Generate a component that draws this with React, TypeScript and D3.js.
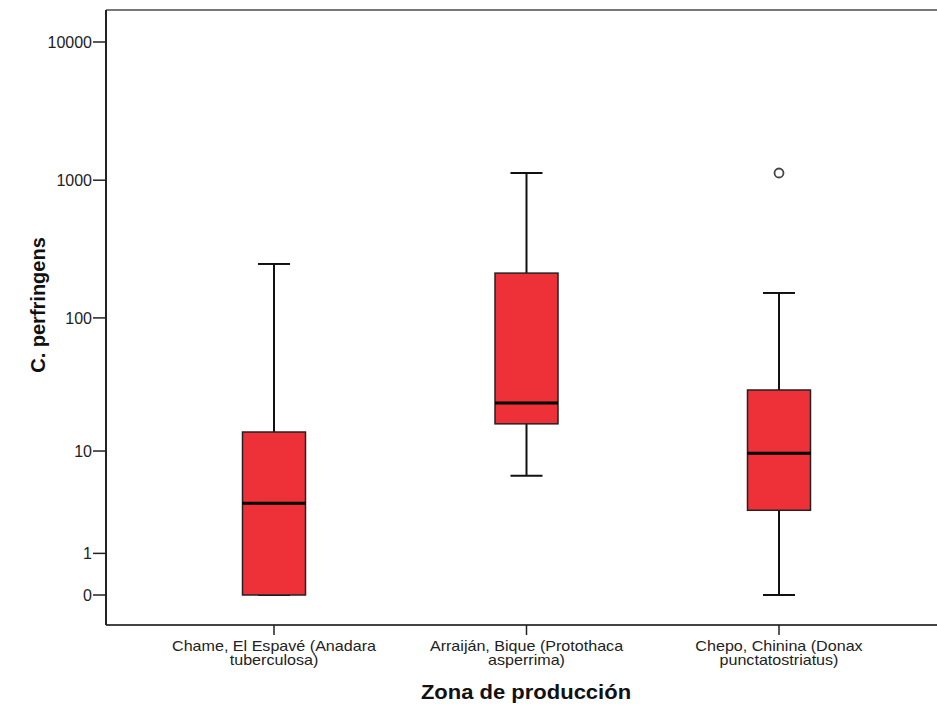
import React from "react";
import * as d3 from "d3";

const categoriesLine1 = ["Chame, El Espavé (Anadara", "Arraiján, Bique (Protothaca", "Chepo, Chinina (Donax"];
const categoriesLine2 = ["tuberculosa)", "asperrima)", "punctatostriatus)"];
const categoryKeys = ["Chame", "Arraijan", "Chepo"];
const whiskerLow = [0, 6.3, 0];
const q1 = [0, 16.3, 3.1];
const median = [3.6, 23.5, 9.6];
const q3 = [14.1, 212, 29.4];
const whiskerHigh = [247, 1127, 152];
const outlierCategory = ["Chepo"];
const outlierValue = [1127];
const yTicks = [0, 1, 10, 100, 1000, 10000];
const yTitle = "C. perfringens";
const xTitle = "Zona de producción";

const W = 937;
const H = 710;
const left = 106;
const top = 10;
const bottom = 625;
const right = 948;

export default function App() {
  const x = d3.scalePoint<string>().domain(categoryKeys).range([274, 779]);
  const y = d3.scaleSymlog().constant(1).domain([0, 10000]).range([595, 42]);
  const boxW = 63;
  const capW = 32;
  const font = "'Liberation Sans', Arial, sans-serif";

  return (
    <svg width={W} height={H} style={{ position: "absolute", left: 0, top: 0, background: "#fff" }} fontFamily={font}>
      <rect x={0} y={0} width={W} height={H} fill="#fff" />
      {/* frame */}
      <line x1={left} x2={right} y1={top} y2={top} stroke="#777" strokeWidth={2} />
      <line x1={left} x2={right} y1={bottom} y2={bottom} stroke="#444" strokeWidth={2} />
      <line x1={left} x2={left} y1={top} y2={bottom} stroke="#222" strokeWidth={2} />

      {/* y ticks */}
      {yTicks.map((t) => (
        <g key={t} transform={`translate(0,${y(t)})`}>
          <line x1={left - 13} x2={left} stroke="#222" strokeWidth={1.5} />
          <text x={left - 14} dy="0.36em" textAnchor="end" fontSize={16} fill="#222">
            {t}
          </text>
        </g>
      ))}

      {/* x ticks and labels */}
      {categoryKeys.map((k, i) => {
        const cx = x(k)!;
        return (
          <g key={k}>
            <line x1={cx} x2={cx} y1={bottom} y2={bottom + 10} stroke="#222" strokeWidth={1.5} />
            <g transform={`translate(${cx},651) scale(1.15,1)`}>
              <text textAnchor="middle" fontSize={14} fill="#222">{categoriesLine1[i]}</text>
              <text y={14} textAnchor="middle" fontSize={14} fill="#222">{categoriesLine2[i]}</text>
            </g>
          </g>
        );
      })}

      {/* boxes */}
      {categoryKeys.map((k, i) => {
        const cx = x(k)!;
        return (
          <g key={"b" + k}>
            <line x1={cx} x2={cx} y1={y(whiskerHigh[i])} y2={y(q3[i])} stroke="#111" strokeWidth={2} />
            <line x1={cx} x2={cx} y1={y(q1[i])} y2={y(whiskerLow[i])} stroke="#111" strokeWidth={2} />
            <line x1={cx - capW / 2} x2={cx + capW / 2} y1={y(whiskerHigh[i])} y2={y(whiskerHigh[i])} stroke="#111" strokeWidth={2} />
            <line x1={cx - capW / 2} x2={cx + capW / 2} y1={y(whiskerLow[i])} y2={y(whiskerLow[i])} stroke="#111" strokeWidth={2} />
            <rect
              x={cx - boxW / 2}
              y={y(q3[i])}
              width={boxW}
              height={y(q1[i]) - y(q3[i])}
              fill="#ee3139"
              stroke="#222"
              strokeWidth={1.5}
            />
            <line x1={cx - boxW / 2} x2={cx + boxW / 2} y1={y(median[i])} y2={y(median[i])} stroke="#000" strokeWidth={3} />
          </g>
        );
      })}

      {/* outliers */}
      {outlierCategory.map((k, i) => (
        <circle key={"o" + i} cx={x(k)!} cy={y(outlierValue[i])} r={4.5} fill="#fff" stroke="#444" strokeWidth={1.8} />
      ))}

      {/* titles */}
      <text transform="translate(45,305) rotate(-90)" textAnchor="middle" fontSize={20} fontWeight="bold" fill="#111">
        {yTitle}
      </text>
      <g transform="translate(526,699) scale(1.1,1)">
        <text textAnchor="middle" fontSize={20} fontWeight="bold" fill="#111">{xTitle}</text>
      </g>
    </svg>
  );
}
